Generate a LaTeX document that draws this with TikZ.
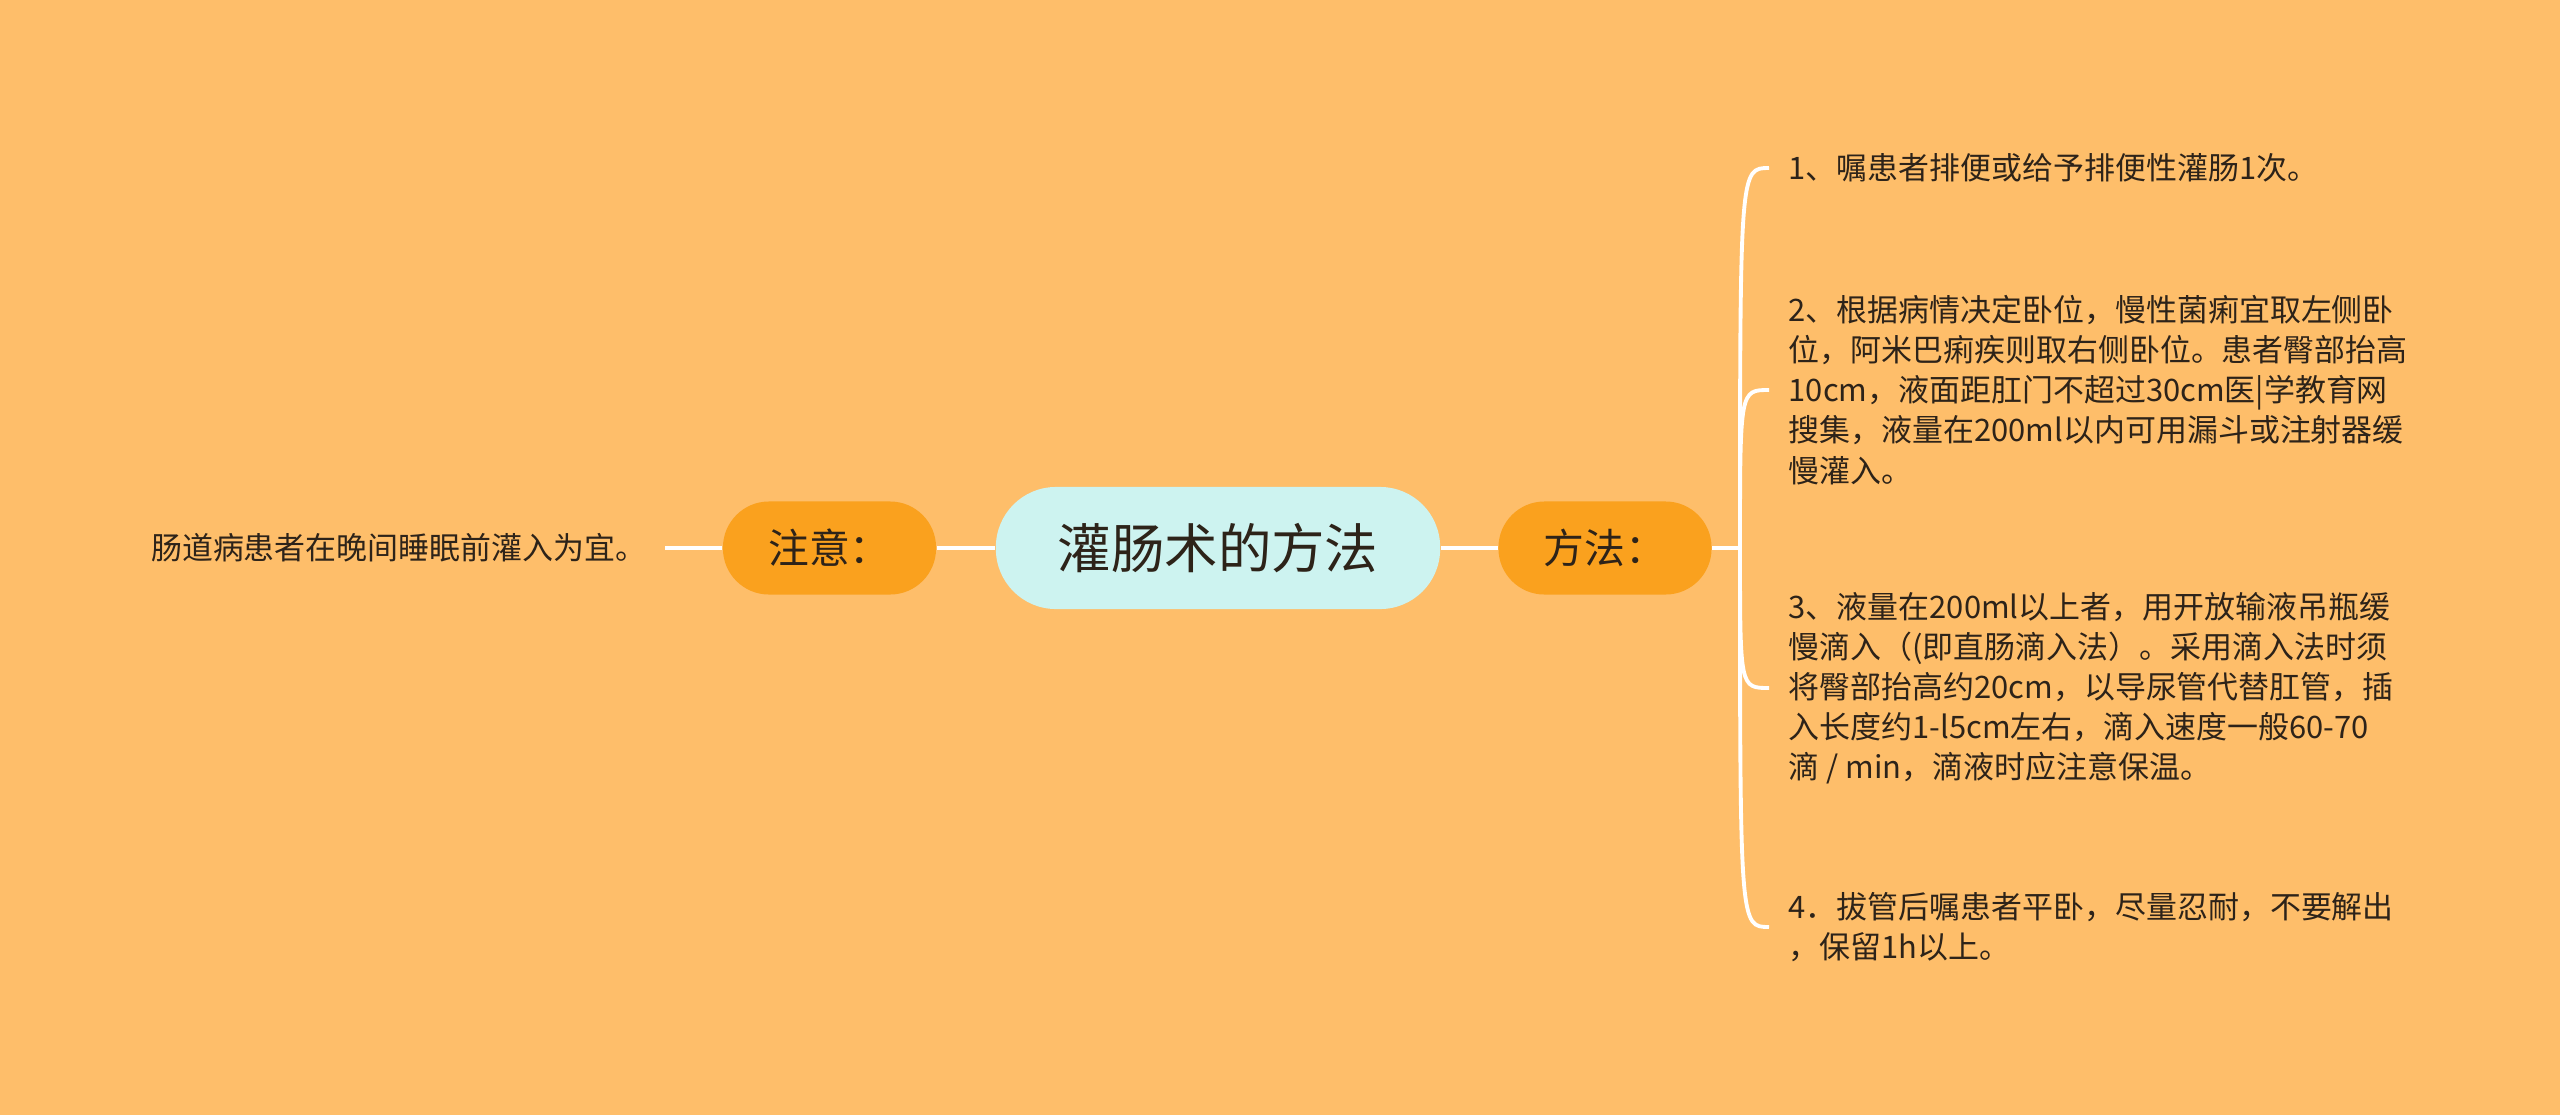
\documentclass[tikz,border=0pt]{standalone}
\usepackage{fontspec}
\setmainfont{Noto Sans CJK SC}
\definecolor{PageOrange}{RGB}{254, 190, 106}
\definecolor{TopicOrange}{RGB}{250, 161, 30}
\definecolor{RootCyan}{RGB}{205, 243, 240}
\definecolor{InkBrown}{RGB}{45, 35, 25}
\usetikzlibrary{positioning, calc}

\begin{document}
\begin{tikzpicture}[x=0.01cm, y=-0.01cm,
    root/.style={fill=RootCyan, rounded corners=0.6cm, minimum width=4.44cm, minimum height=1.22cm, font=\fontsize{15.2}{18}\selectfont, text=InkBrown},
    topic/.style={fill=TopicOrange, rounded corners=0.46cm, minimum width=2.13cm, minimum height=0.93cm, font=\fontsize{11.6}{14}\selectfont, text=InkBrown},
    leaf/.style={align=left, font=\fontsize{8.8}{11.4}\selectfont, text=InkBrown, inner xsep=0.19cm, inner ysep=0.05cm},
    link/.style={draw=white, line width=1.4pt},
    branch/.style={draw=white, line width=1.1pt}]

    % page
    \fill[PageOrange] (0,0) rectangle (2560,1115);
    \useasboundingbox (0,0) rectangle (2560,1115);

    % centre and the two topics
    \node[root] (main) at (1218,548) {灌肠术的方法};
    \node[topic] (note) at (829.5,548) {注意：};
    \node[topic] (method) at (1605,548) {方法：};

    % left leaf
    \node[leaf, anchor=east, inner xsep=0.18cm] (tip) at (665,548) {肠道病患者在晚间睡眠前灌入为宜。};

    % right leaves
    \coordinate (fork) at (1740,548);
    \node[leaf, anchor=west] (s1) at (1769,168) {1、嘱患者排便或给予排便性灌肠1次。};
    \node[leaf, anchor=west] (s2) at (1769,390) {2、根据病情决定卧位，慢性菌痢宜取左侧卧\\位，阿米巴痢疾则取右侧卧位。患者臀部抬高\\10cm，液面距肛门不超过30cm医|学教育网\\搜集，液量在200ml以内可用漏斗或注射器缓\\慢灌入。};
    \node[leaf, anchor=west] (s3) at (1769,688) {3、液量在200ml以上者，用开放输液吊瓶缓\\慢滴入（(即直肠滴入法）。采用滴入法时须\\将臀部抬高约20cm，以导尿管代替肛管，插\\入长度约1-l5cm左右，滴入速度一般60-70\\滴 / min，滴液时应注意保温。};
    \node[leaf, anchor=west] (s4) at (1769,927) {4．拔管后嘱患者平卧，尽量忍耐，不要解出\\，保留1h以上。};

    % connectors
    \draw[link] (tip.east) -- (note.west);
    \draw[link] (note.east) -- (main.west);
    \draw[link] (main.east) -- (method.west);
    \draw[link] (method.east) -- (fork);
    \foreach \s in {s1,s2,s3,s4}
        \draw[branch] (fork) .. controls (fork |- \s.west) and (fork |- \s.west) .. (\s.west);
\end{tikzpicture}
\end{document}
